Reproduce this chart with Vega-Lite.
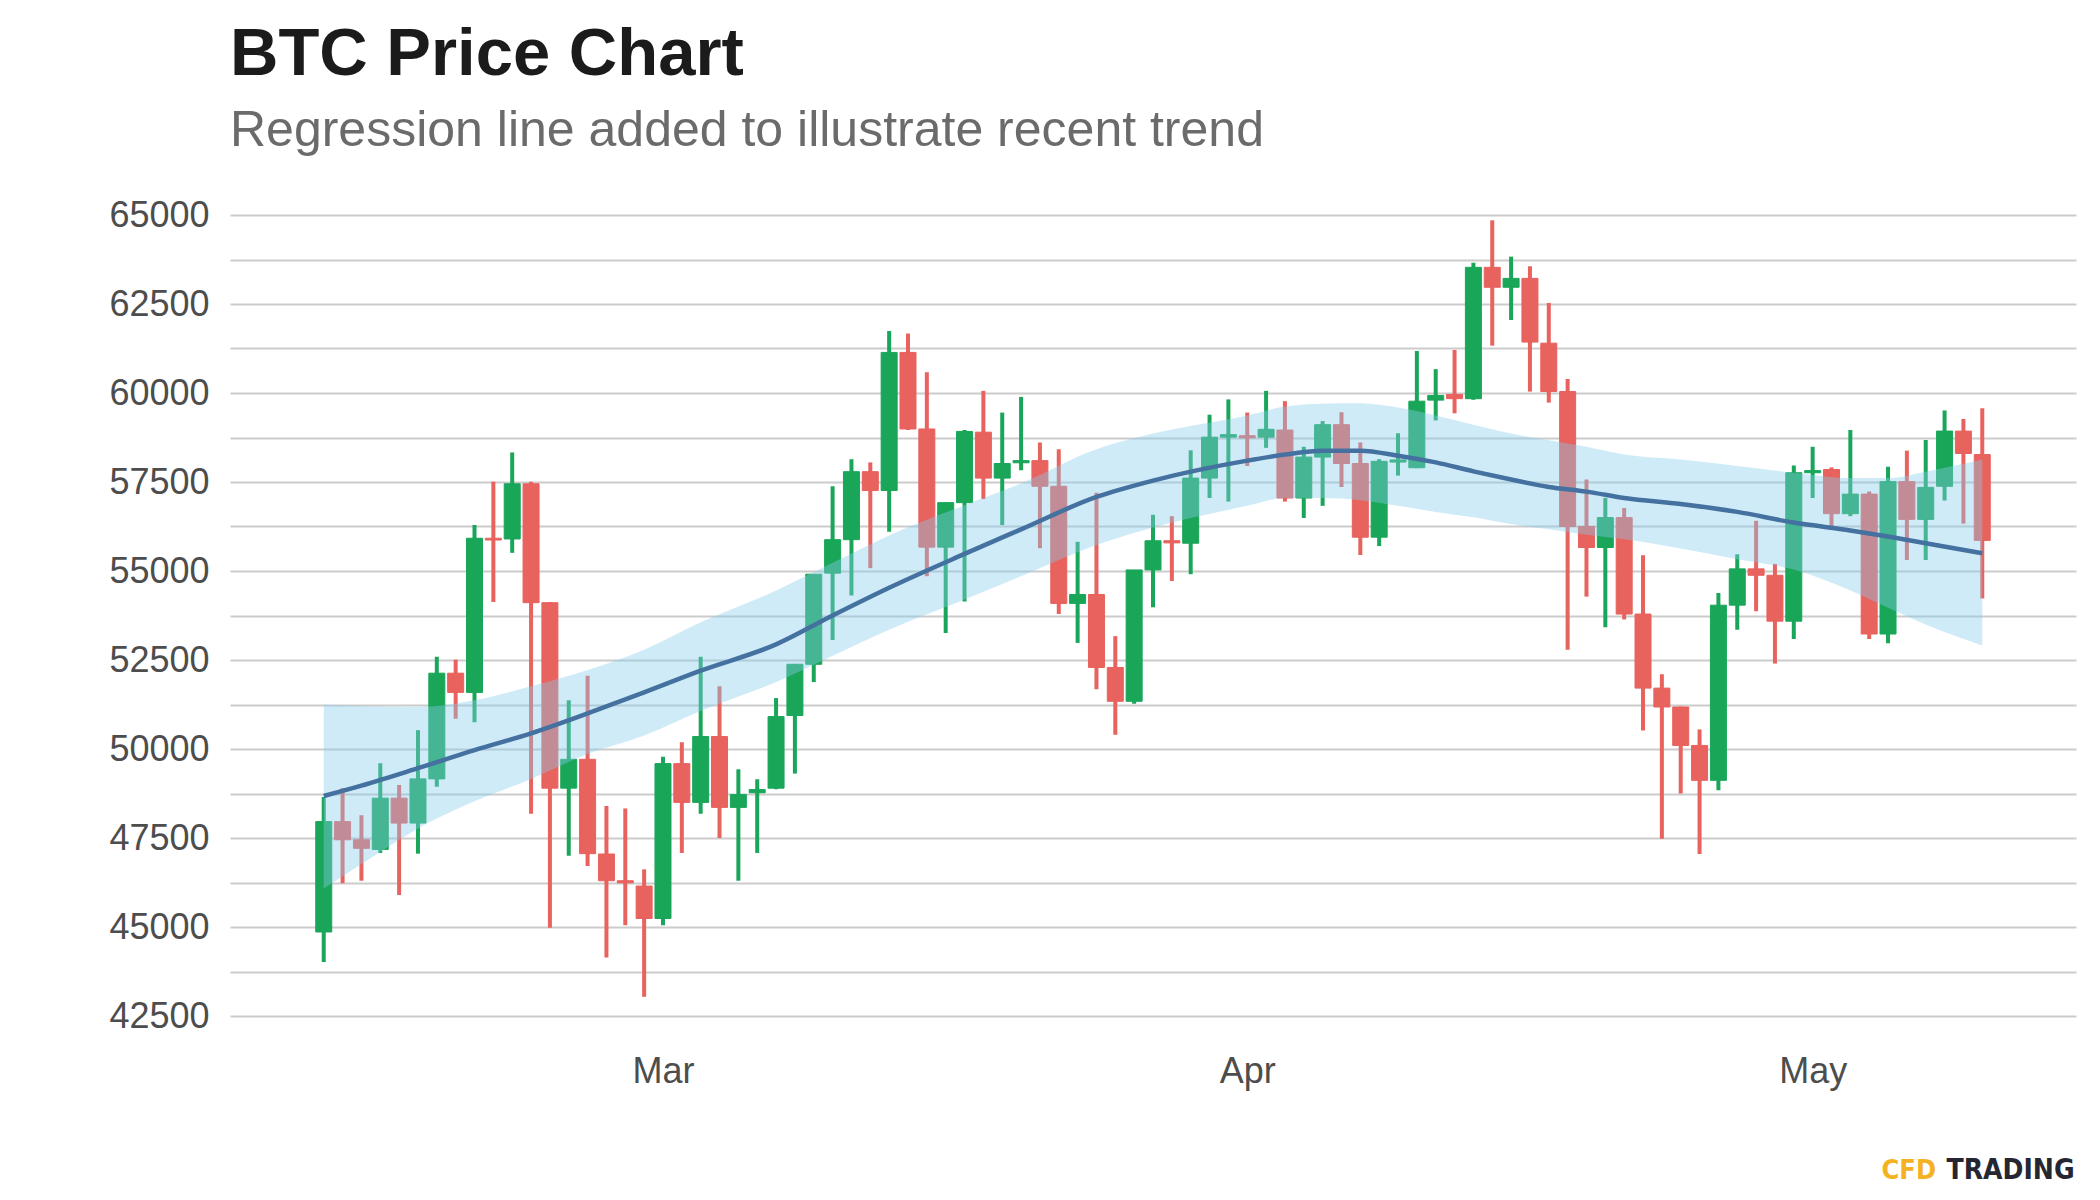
{
  "$schema": "https://vega.github.io/schema/vega-lite/v6.json",
  "width": 1846,
  "height": 801,
  "autosize": {"type": "none"},
  "padding": {"left": 230, "top": 215, "right": 24, "bottom": 184},
  "background": "white",
  "title": {
    "text": "BTC Price Chart",
    "subtitle": "Regression line added to illustrate recent trend",
    "anchor": "start",
    "frame": "group",
    "offset": 40,
    "font": "Liberation Sans",
    "fontSize": 67,
    "fontWeight": "bold",
    "color": "#1b1b1b",
    "subtitleFont": "Liberation Sans",
    "subtitleFontSize": 50,
    "subtitleColor": "#6b6b6b",
    "subtitlePadding": 17
  },
  "data": {"values": [
      {"date": "2021-02-11", "open": 44860, "high": 48650, "low": 44020, "close": 47960},
      {"date": "2021-02-12", "open": 47960, "high": 48900, "low": 46230, "close": 47450},
      {"date": "2021-02-13", "open": 47450, "high": 48140, "low": 46300, "close": 47210},
      {"date": "2021-02-14", "open": 47180, "high": 49600, "low": 47080, "close": 48620},
      {"date": "2021-02-15", "open": 48620, "high": 48990, "low": 45900, "close": 47920},
      {"date": "2021-02-16", "open": 47920, "high": 50530, "low": 47060, "close": 49160},
      {"date": "2021-02-17", "open": 49160, "high": 52590, "low": 48940, "close": 52130},
      {"date": "2021-02-18", "open": 52130, "high": 52510, "low": 50850, "close": 51590},
      {"date": "2021-02-19", "open": 51590, "high": 56290, "low": 50750, "close": 55920},
      {"date": "2021-02-20", "open": 55920, "high": 57510, "low": 54130, "close": 55870},
      {"date": "2021-02-21", "open": 55900, "high": 58330, "low": 55510, "close": 57450},
      {"date": "2021-02-22", "open": 57450, "high": 57510, "low": 48180, "close": 54110},
      {"date": "2021-02-23", "open": 54110, "high": 54130, "low": 44980, "close": 48900},
      {"date": "2021-02-24", "open": 48900, "high": 51370, "low": 47000, "close": 49710},
      {"date": "2021-02-25", "open": 49710, "high": 52060, "low": 46710, "close": 47060},
      {"date": "2021-02-26", "open": 47050, "high": 48400, "low": 44140, "close": 46300},
      {"date": "2021-02-27", "open": 46300, "high": 48330, "low": 45050, "close": 46240},
      {"date": "2021-02-28", "open": 46150, "high": 46620, "low": 43040, "close": 45240},
      {"date": "2021-03-01", "open": 45240, "high": 49780, "low": 45050, "close": 49590},
      {"date": "2021-03-02", "open": 49590, "high": 50190, "low": 47080, "close": 48500},
      {"date": "2021-03-03", "open": 48500, "high": 52590, "low": 48180, "close": 50350},
      {"date": "2021-03-04", "open": 50350, "high": 51760, "low": 47500, "close": 48360},
      {"date": "2021-03-05", "open": 48360, "high": 49430, "low": 46300, "close": 48720},
      {"date": "2021-03-06", "open": 48770, "high": 49150, "low": 47080, "close": 48860},
      {"date": "2021-03-07", "open": 48900, "high": 51430, "low": 48870, "close": 50910},
      {"date": "2021-03-08", "open": 50940, "high": 52390, "low": 49310, "close": 52380},
      {"date": "2021-03-09", "open": 52380, "high": 54910, "low": 51880, "close": 54910},
      {"date": "2021-03-10", "open": 54940, "high": 57380, "low": 53060, "close": 55880},
      {"date": "2021-03-11", "open": 55880, "high": 58140, "low": 54310, "close": 57790},
      {"date": "2021-03-12", "open": 57790, "high": 58050, "low": 55080, "close": 57260},
      {"date": "2021-03-13", "open": 57260, "high": 61740, "low": 56100, "close": 61140},
      {"date": "2021-03-14", "open": 61140, "high": 61670, "low": 58960, "close": 58990},
      {"date": "2021-03-15", "open": 58990, "high": 60580, "low": 54850, "close": 55670},
      {"date": "2021-03-16", "open": 55670, "high": 56920, "low": 53260, "close": 56920},
      {"date": "2021-03-17", "open": 56920, "high": 58960, "low": 54140, "close": 58920},
      {"date": "2021-03-18", "open": 58900, "high": 60060, "low": 57020, "close": 57610},
      {"date": "2021-03-19", "open": 57610, "high": 59450, "low": 56290, "close": 58020},
      {"date": "2021-03-20", "open": 58040, "high": 59890, "low": 57830, "close": 58100},
      {"date": "2021-03-21", "open": 58100, "high": 58610, "low": 55640, "close": 57380},
      {"date": "2021-03-22", "open": 57380, "high": 58420, "low": 53790, "close": 54090},
      {"date": "2021-03-23", "open": 54090, "high": 55820, "low": 52980, "close": 54340},
      {"date": "2021-03-24", "open": 54340, "high": 57200, "low": 51680, "close": 52290},
      {"date": "2021-03-25", "open": 52290, "high": 53170, "low": 50400, "close": 51340},
      {"date": "2021-03-26", "open": 51340, "high": 55030, "low": 51270, "close": 55030},
      {"date": "2021-03-27", "open": 55030, "high": 56580, "low": 53980, "close": 55850},
      {"date": "2021-03-28", "open": 55850, "high": 56540, "low": 54720, "close": 55790},
      {"date": "2021-03-29", "open": 55780, "high": 58390, "low": 54910, "close": 57610},
      {"date": "2021-03-30", "open": 57610, "high": 59390, "low": 57050, "close": 58760},
      {"date": "2021-03-31", "open": 58760, "high": 59820, "low": 56950, "close": 58830},
      {"date": "2021-04-01", "open": 58800, "high": 59450, "low": 57950, "close": 58740},
      {"date": "2021-04-02", "open": 58760, "high": 60060, "low": 58460, "close": 58980},
      {"date": "2021-04-03", "open": 58960, "high": 59770, "low": 56950, "close": 57050},
      {"date": "2021-04-04", "open": 57050, "high": 58490, "low": 56490, "close": 58200},
      {"date": "2021-04-05", "open": 58200, "high": 59210, "low": 56830, "close": 59110},
      {"date": "2021-04-06", "open": 59110, "high": 59460, "low": 57360, "close": 58020},
      {"date": "2021-04-07", "open": 58020, "high": 58610, "low": 55450, "close": 55950},
      {"date": "2021-04-08", "open": 55950, "high": 58140, "low": 55700, "close": 58080},
      {"date": "2021-04-09", "open": 58060, "high": 58870, "low": 57680, "close": 58120},
      {"date": "2021-04-10", "open": 57900, "high": 61180, "low": 57890, "close": 59770},
      {"date": "2021-04-11", "open": 59800, "high": 60670, "low": 59230, "close": 59930},
      {"date": "2021-04-12", "open": 59960, "high": 61210, "low": 59430, "close": 59840},
      {"date": "2021-04-13", "open": 59840, "high": 63660, "low": 59810, "close": 63530},
      {"date": "2021-04-14", "open": 63530, "high": 64850, "low": 61330, "close": 62970},
      {"date": "2021-04-15", "open": 62970, "high": 63830, "low": 62050, "close": 63220},
      {"date": "2021-04-16", "open": 63220, "high": 63560, "low": 60040, "close": 61430},
      {"date": "2021-04-17", "open": 61400, "high": 62530, "low": 59730, "close": 60040},
      {"date": "2021-04-18", "open": 60040, "high": 60390, "low": 52790, "close": 56250},
      {"date": "2021-04-19", "open": 56250, "high": 57570, "low": 54280, "close": 55660},
      {"date": "2021-04-20", "open": 55660, "high": 57050, "low": 53420, "close": 56500},
      {"date": "2021-04-21", "open": 56500, "high": 56770, "low": 53640, "close": 53790},
      {"date": "2021-04-22", "open": 53790, "high": 55440, "low": 50520, "close": 51710},
      {"date": "2021-04-23", "open": 51710, "high": 52100, "low": 47480, "close": 51180},
      {"date": "2021-04-24", "open": 51180, "high": 51190, "low": 48750, "close": 50100},
      {"date": "2021-04-25", "open": 50100, "high": 50550, "low": 47050, "close": 49120},
      {"date": "2021-04-26", "open": 49120, "high": 54380, "low": 48840, "close": 54040},
      {"date": "2021-04-27", "open": 54040, "high": 55470, "low": 53350, "close": 55060},
      {"date": "2021-04-28", "open": 55060, "high": 56410, "low": 53870, "close": 54880},
      {"date": "2021-04-29", "open": 54880, "high": 55200, "low": 52400, "close": 53590},
      {"date": "2021-04-30", "open": 53590, "high": 57960, "low": 53090, "close": 57760},
      {"date": "2021-05-01", "open": 57760, "high": 58490, "low": 57050, "close": 57820},
      {"date": "2021-05-02", "open": 57850, "high": 57910, "low": 56220, "close": 56610},
      {"date": "2021-05-03", "open": 56610, "high": 58960, "low": 56540, "close": 57160},
      {"date": "2021-05-04", "open": 57160, "high": 57230, "low": 53090, "close": 53230},
      {"date": "2021-05-05", "open": 53230, "high": 57930, "low": 52970, "close": 57510},
      {"date": "2021-05-06", "open": 57510, "high": 58380, "low": 55310, "close": 56450},
      {"date": "2021-05-07", "open": 56450, "high": 58680, "low": 55310, "close": 57350},
      {"date": "2021-05-08", "open": 57380, "high": 59510, "low": 56980, "close": 58930},
      {"date": "2021-05-09", "open": 58930, "high": 59270, "low": 56330, "close": 58300},
      {"date": "2021-05-10", "open": 58270, "high": 59570, "low": 54230, "close": 55860}
  ]},
  "encoding": {
    "x": {
      "field": "date",
      "type": "temporal",
      "title": "TRADING",
      "scale": {
        "domain": [
          {"year": 2021, "month": 2, "date": 6, "hours": 7, "minutes": 0, "utc": true},
          {"year": 2021, "month": 5, "date": 14, "hours": 17, "minutes": 0, "utc": true}
        ]
      },
      "axis": {
        "tickCount": {"interval": "month", "step": 1},
        "format": "%b"
      }
    }
  },
  "layer": [
    {
      "mark": {"type": "rule", "strokeWidth": 4},
      "encoding": {
        "y": {
          "field": "low",
          "type": "quantitative",
          "title": "CFD",
          "scale": {"domain": [42500, 65000], "nice": false, "zero": false},
          "axis": {
            "values": [42500, 43750, 45000, 46250, 47500, 48750, 50000, 51250, 52500, 53750, 55000, 56250, 57500, 58750, 60000, 61250, 62500, 63750, 65000],
            "format": "d",
            "labelExpr": "datum.value % 2500 === 0 ? datum.label : ''"
          }
        },
        "y2": {"field": "high"},
        "color": {"condition": {"test": "datum.close > datum.open", "value": "#19a659"}, "value": "#e8625e"}
      }
    },
    {
      "mark": {"type": "bar", "width": 16, "strokeWidth": 1},
      "encoding": {
        "y": {"field": "open", "type": "quantitative", "title": "CFD", "scale": {"domain": [42500, 65000], "nice": false, "zero": false}},
        "y2": {"field": "close"},
        "color": {"condition": {"test": "datum.close > datum.open", "value": "#19a659"}, "value": "#e8625e"},
        "stroke": {"condition": {"test": "datum.close > datum.open", "value": "#19a659"}, "value": "#e8625e"}
      }
    },
    {
      "data": {"values": [
        {"date": "2021-02-11", "lo": 46080, "fit": 48680, "hi": 51240},
        {"date": "2021-02-13", "lo": 46770, "fit": 48970, "hi": 51210},
        {"date": "2021-02-16", "lo": 47770, "fit": 49460, "hi": 51180},
        {"date": "2021-02-19", "lo": 48530, "fit": 49970, "hi": 51370},
        {"date": "2021-02-22", "lo": 49160, "fit": 50440, "hi": 51760},
        {"date": "2021-02-25", "lo": 49860, "fit": 51000, "hi": 52220},
        {"date": "2021-02-28", "lo": 50380, "fit": 51590, "hi": 52790},
        {"date": "2021-03-03", "lo": 51070, "fit": 52200, "hi": 53560},
        {"date": "2021-03-07", "lo": 51880, "fit": 52940, "hi": 54450},
        {"date": "2021-03-10", "lo": 52620, "fit": 53750, "hi": 55230},
        {"date": "2021-03-13", "lo": 53350, "fit": 54530, "hi": 56000},
        {"date": "2021-03-17", "lo": 54200, "fit": 55480, "hi": 56850},
        {"date": "2021-03-20", "lo": 54850, "fit": 56170, "hi": 57460},
        {"date": "2021-03-24", "lo": 55730, "fit": 57080, "hi": 58420},
        {"date": "2021-03-27", "lo": 56220, "fit": 57540, "hi": 58860},
        {"date": "2021-04-01", "lo": 56830, "fit": 58100, "hi": 59370},
        {"date": "2021-04-03", "lo": 57050, "fit": 58270, "hi": 59620},
        {"date": "2021-04-05", "lo": 57050, "fit": 58380, "hi": 59700},
        {"date": "2021-04-07", "lo": 56990, "fit": 58380, "hi": 59710},
        {"date": "2021-04-09", "lo": 56830, "fit": 58240, "hi": 59590},
        {"date": "2021-04-11", "lo": 56660, "fit": 58050, "hi": 59370},
        {"date": "2021-04-13", "lo": 56510, "fit": 57800, "hi": 59110},
        {"date": "2021-04-15", "lo": 56320, "fit": 57570, "hi": 58860},
        {"date": "2021-04-17", "lo": 56170, "fit": 57360, "hi": 58670},
        {"date": "2021-04-19", "lo": 56020, "fit": 57230, "hi": 58490},
        {"date": "2021-04-21", "lo": 55890, "fit": 57050, "hi": 58270},
        {"date": "2021-04-24", "lo": 55630, "fit": 56880, "hi": 58130},
        {"date": "2021-04-27", "lo": 55330, "fit": 56660, "hi": 57950},
        {"date": "2021-04-30", "lo": 55040, "fit": 56360, "hi": 57760},
        {"date": "2021-05-03", "lo": 54450, "fit": 56140, "hi": 57610},
        {"date": "2021-05-05", "lo": 53970, "fit": 55970, "hi": 57610},
        {"date": "2021-05-07", "lo": 53500, "fit": 55780, "hi": 57790},
        {"date": "2021-05-10", "lo": 52910, "fit": 55500, "hi": 58130}
      ]},
      "layer": [
        {
          "mark": {"type": "area", "color": "#87ceeb", "opacity": 0.4, "interpolate": "monotone"},
          "encoding": {
            "y": {"field": "lo", "type": "quantitative", "title": "CFD", "scale": {"domain": [42500, 65000], "nice": false, "zero": false}},
            "y2": {"field": "hi"}
          }
        },
        {
          "mark": {"type": "line", "color": "#44719f", "strokeWidth": 4.5, "interpolate": "monotone"},
          "encoding": {
            "y": {"field": "fit", "type": "quantitative", "title": "CFD", "scale": {"domain": [42500, 65000], "nice": false, "zero": false}}
          }
        }
      ]
    }
  ],
  "config": {
    "view": {"stroke": null},
    "axis": {
      "labelFont": "Liberation Sans",
      "labelFontSize": 36,
      "labelColor": "#4d4d4d",
      "domain": false,
      "ticks": false
    },
    "axisY": {
      "grid": true,
      "gridColor": "#cccccc",
      "gridWidth": 2,
      "labelPadding": 21,
      "titleX": 1651,
      "titleY": 963,
      "titleAngle": 0,
      "titleAlign": "left",
      "titleBaseline": "alphabetic",
      "titleFont": "DejaVu Sans Condensed, Liberation Sans, sans-serif",
      "titleFontWeight": "bold",
      "titleFontSize": 27,
      "titleColor": "#f4b223"
    },
    "axisX": {
      "grid": false,
      "labelPadding": 38,
      "titleX": 1716,
      "titleY": 162,
      "titleAlign": "left",
      "titleBaseline": "alphabetic",
      "titleFont": "DejaVu Sans Condensed, Liberation Sans, sans-serif",
      "titleFontWeight": "bold",
      "titleFontSize": 28,
      "titleColor": "#262633"
    }
  }
}
